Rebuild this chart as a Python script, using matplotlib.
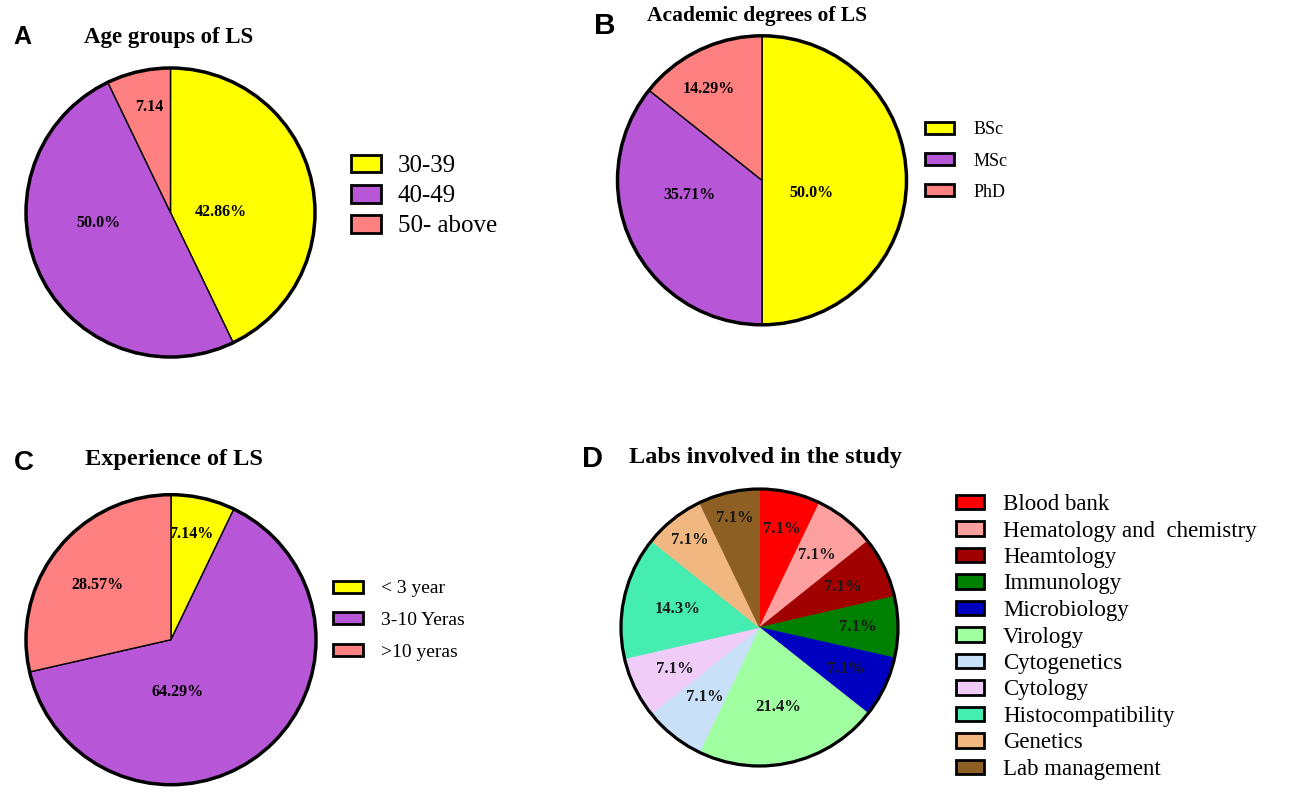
import matplotlib
matplotlib.use('Agg')
import matplotlib.pyplot as plt
import numpy as np
from matplotlib.patches import Circle, Patch

# ---- data ----
age_labels = ['30-39', '40-49', '50- above']
age_values = [42.86, 50.0, 7.14]
age_suffix = ['%', '%', '']

degree_labels = ['BSc', 'MSc', 'PhD']
degree_values = [50.0, 35.71, 14.29]

exp_labels = ['< 3 year', '3-10 Yeras', '>10 yeras']
exp_values = [7.14, 64.29, 28.57]

lab_labels = ['Blood bank', 'Hematology and  chemistry', 'Heamtology', 'Immunology',
              'Microbiology', 'Virology', 'Cytogenetics', 'Cytology',
              'Histocompatibility', 'Genetics', 'Lab management']
lab_values = [7.1, 7.1, 7.1, 7.1, 7.1, 21.4, 7.1, 7.1, 14.3, 7.1, 7.1]

# ---- styling ----
three_colors = ['#FFFF00', '#B856D8', '#FF8080']
lab_colors = ['#FF0000', '#FFA0A0', '#A00000', '#008000', '#0000C0', '#A0FFA0',
              '#C8E0F8', '#F0CCF8', '#45EDB0', '#F0B880', '#8E5F22']

plt.rcParams['font.family'] = ['Liberation Serif', 'DejaVu Serif']

W, H = 1294, 792
fig = plt.figure(figsize=(W / 100, H / 100), dpi=100)


def fx(x):
    return x / W


def fy(y):
    return 1 - y / H


def fmt(v):
    s = f'{v:.2f}'.rstrip('0')
    return s + '0' if s.endswith('.') else s


def draw_pie(cx, cy, r, values, colors, edge_lw, ring_lw):
    pad = 1.03
    half = r * pad
    ax = fig.add_axes([fx(cx - half), fy(cy + half), 2 * half / W, 2 * half / H])
    wedges, _ = ax.pie(values, colors=colors, startangle=90, counterclock=False,
                       wedgeprops=dict(edgecolor='black', linewidth=edge_lw))
    if edge_lw == 0:
        # no separators: paint the edge in the slice colour to hide seams
        for w in wedges:
            w.set_edgecolor(w.get_facecolor())
            w.set_linewidth(0.5)
    ax.add_patch(Circle((0, 0), 1, fill=False, edgecolor='black', linewidth=ring_lw))
    ax.set_xlim(-pad, pad)
    ax.set_ylim(-pad, pad)
    ax.set_aspect('equal')
    ax.axis('off')
    return ax, wedges


def add_legend(labels, colors, x_left, y_center, fs, hl, hh, tpad, spacing):
    handles = [Patch(facecolor=c, edgecolor='black', linewidth=2) for c in colors]
    fig.legend(handles, labels, loc='center left',
               bbox_to_anchor=(fx(x_left), fy(y_center)), frameon=False,
               fontsize=fs, handlelength=hl, handleheight=hh, handletextpad=tpad,
               labelspacing=spacing, borderpad=0, borderaxespad=0)


def title(x, y, text, size):
    fig.text(fx(x), fy(y), text, ha='center', va='center', fontsize=size,
             fontweight='bold')


def letter(x, y, text, size):
    fig.text(fx(x), fy(y), text, ha='center', va='center', fontsize=size,
             fontweight='bold', family='Liberation Sans')


# ---- A: age groups ----
ax, _ = draw_pie(170.5, 212.5, 144.5, age_values, three_colors, 1.0, 2.5)
for (dx, dy), v, suf in zip([(0.35, 0.0), (-0.50, -0.07), (-0.15, 0.73)],
                            age_values, age_suffix):
    ax.text(dx, dy, fmt(v) + suf, ha='center', va='center', fontsize=11.5,
            fontweight='bold')
letter(22, 37, 'A', 18)
title(169, 38, 'Age groups of LS', 16.5)
add_legend(age_labels, three_colors, 351, 196, 18, 1.2, 0.72, 0.68, 0.3)

# ---- B: academic degrees ----
ax, _ = draw_pie(762, 180.3, 144.5, degree_values, three_colors, 1.0, 2.5)
for (dx, dy), v in zip([(0.34, -0.085), (-0.505, -0.10), (-0.37, 0.63)],
                       degree_values):
    ax.text(dx, dy, fmt(v) + '%', ha='center', va='center', fontsize=11.5,
            fontweight='bold')
letter(605, 26, 'B', 21.5)
title(757, 16, 'Academic degrees of LS', 15.5)
add_legend(degree_labels, three_colors, 925, 161, 13, 1.6, 0.6, 1.1, 0.78)

# ---- C: experience ----
ax, _ = draw_pie(171, 639.7, 145, exp_values, three_colors, 1.0, 2.5)
for (dx, dy), v in zip([(0.14, 0.73), (0.046, -0.36), (-0.505, 0.377)],
                       exp_values):
    ax.text(dx, dy, fmt(v) + '%', ha='center', va='center', fontsize=11.5,
            fontweight='bold')
letter(23.5, 463, 'C', 20)
title(173.5, 459, 'Experience of LS', 17.5)
add_legend(exp_labels, three_colors, 333, 620.5, 14, 1.55, 0.57, 0.93, 0.75)

# ---- D: labs ----
ax, wedges = draw_pie(759.5, 627.5, 138.5, lab_values, lab_colors, 0, 2.3)
label_r = [0.73, 0.67, 0.67, 0.71, 0.69, 0.59, 0.64, 0.68, 0.61, 0.81, 0.81]
for w, v, rr in zip(wedges, lab_values, label_r):
    ang = np.deg2rad((w.theta1 + w.theta2) / 2)
    ax.text(rr * np.cos(ang), rr * np.sin(ang), f'{v:.1f}%', ha='center',
            va='center', fontsize=12, fontweight='bold', color='#1a1a1a')
letter(593, 459, 'D', 21)
title(765, 457, 'Labs involved in the study', 17.5)
add_legend(lab_labels, lab_colors, 956, 637, 16.5, 1.22, 0.61, 0.83, 0.24)

fig.savefig('out.png', dpi=100)
